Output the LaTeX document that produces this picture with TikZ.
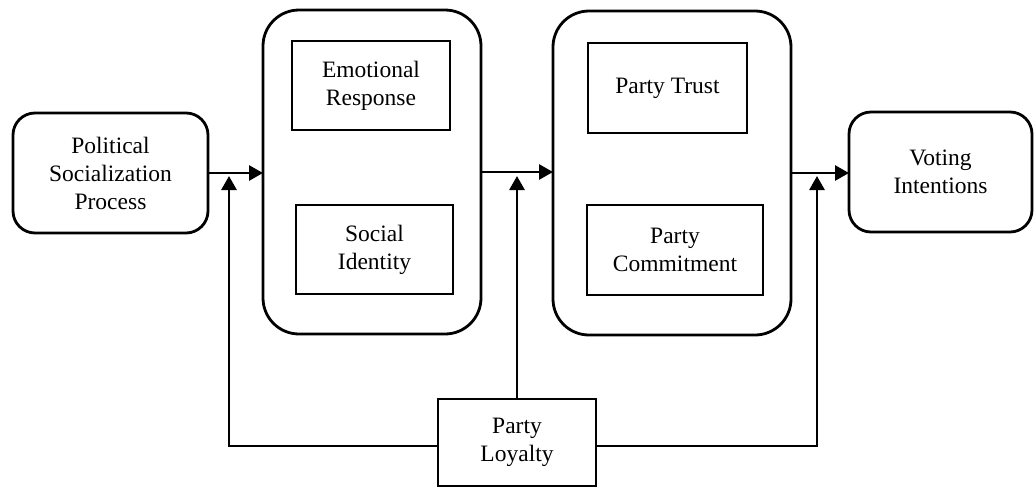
\documentclass[tikz,border=0pt]{standalone}
\usepackage{fontspec}
\setmainfont{Liberation Serif}
\usetikzlibrary{arrows.meta}
\begin{document}
\begin{tikzpicture}[x=1pt,y=-1pt,
  every node/.style={font=\fontsize{23.5}{28}\selectfont, align=center, inner sep=0pt, outer sep=0pt},
  sqbox/.style={draw, line width=2.8pt},
  rbox/.style={draw, line width=2.8pt, rounded corners=22pt},
  bigbox/.style={draw, line width=2.8pt, rounded corners=36pt},
  arr/.style={line width=2.8pt, -{Triangle[length=14pt,width=15pt]}},
  ln/.style={line width=2.8pt}]
\useasboundingbox (0,0) rectangle (1035,488);
% outer containers
\node[bigbox, minimum width=218pt, minimum height=324pt] (big1) at (372,172) {};
\node[bigbox, minimum width=238pt, minimum height=324pt] (big2) at (672,173) {};
% side boxes
\node[rbox, minimum width=195pt, minimum height=120pt] (psp) at (110.5,173) {Political\\Socialization\\Process};
\node[rbox, minimum width=183pt, minimum height=120pt] (vi) at (940.5,172) {Voting\\Intentions};
% inner boxes
\node[sqbox, minimum width=158pt, minimum height=89pt] (er) at (371,85.5) {Emotional\\Response};
\node[sqbox, minimum width=157pt, minimum height=89pt] (si) at (374.5,249.5) {Social\\Identity};
\node[sqbox, minimum width=159pt, minimum height=90pt] (pt) at (667.5,88) {Party Trust};
\node[sqbox, minimum width=176pt, minimum height=90pt] (pc) at (675,250) {Party\\Commitment};
% loyalty
\node[sqbox, minimum width=158pt, minimum height=87pt] (pl) at (517,442.5) {Party\\Loyalty};
% targets of moderating arrows
\coordinate (t1) at (229,176);
\coordinate (t2) at (517,176);
\coordinate (t3) at (817,176);
% main flow
\draw[arr] (psp.east) -- (psp.east -| big1.west);
\draw[arr] (big1.east) -- (big1.east -| big2.west);
\draw[arr] (big2.east) -- (big2.east -| vi.west);
% moderating arrows
\draw[arr] ([yshift=-3.5pt]pl.west) -| (t1);
\draw[arr] (pl.north) -- (t2);
\draw[arr] ([yshift=-3.5pt]pl.east) -| (t3);
\end{tikzpicture}
\end{document}
